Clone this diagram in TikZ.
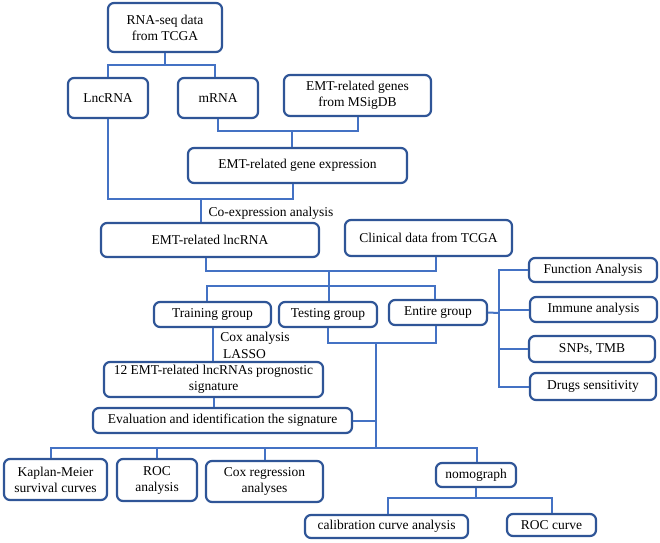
\documentclass[tikz,border=0pt]{standalone}
\usepackage{fontspec}
\setmainfont{Liberation Serif}
\definecolor{boxc}{HTML}{2F5597}
\definecolor{linec}{HTML}{4472C4}
\begin{document}
\begin{tikzpicture}[x=1pt,y=-1pt,
  box/.style={draw=boxc, line width=2.2pt, rounded corners=6pt, fill=white, align=center, inner sep=0pt, font=\fontsize{13.5}{16}\selectfont},
  conn/.style={draw=linec, line width=2pt},
  lbl/.style={font=\fontsize{13.5}{16}\selectfont, inner sep=0pt}]
\useasboundingbox (0,0) rectangle (660,542);
% nodes
\node[box, minimum width=114, minimum height=49] (rna) at (165,27.5) {RNA-seq data\\from TCGA};
\node[box, minimum width=80, minimum height=40] (lnc) at (108,98) {LncRNA};
\node[box, minimum width=80, minimum height=40] (mrna) at (218,98) {mRNA};
\node[box, minimum width=147, minimum height=41] (genes) at (357.5,95.5) {EMT-related genes\\from MSigDB};
\node[box, minimum width=219, minimum height=35] (expr) at (297.5,165.5) {EMT-related gene expression};
\node[box, minimum width=218, minimum height=34] (lncemt) at (210,240) {EMT-related lncRNA};
\node[box, minimum width=167, minimum height=36] (clin) at (428.5,238) {Clinical data from TCGA};
\node[box, minimum width=117, minimum height=25] (train) at (212.5,314.5) {Training group};
\node[box, minimum width=98, minimum height=25] (test) at (328,314.5) {Testing group};
\node[box, minimum width=98, minimum height=25] (entire) at (438,312.5) {Entire group};
\node[box, minimum width=219, minimum height=35] (sig) at (213.5,379.5) {12 EMT-related lncRNAs prognostic\\signature};
\node[box, minimum width=259, minimum height=25] (eval) at (222.5,420.5) {Evaluation and identification the signature};
\node[box, minimum width=128, minimum height=24] (func) at (593,270) {Function Analysis};
\node[box, minimum width=127, minimum height=25] (imm) at (593.5,309.5) {Immune analysis};
\node[box, minimum width=126, minimum height=26] (snp) at (592,349) {SNPs, TMB};
\node[box, minimum width=126, minimum height=27] (drug) at (593,386.5) {Drugs sensitivity};
\node[box, minimum width=103, minimum height=41] (km) at (55.5,479.5) {Kaplan-Meier\\survival curves};
\node[box, minimum width=80, minimum height=42] (roc) at (157,480) {ROC\\analysis};
\node[box, minimum width=117, minimum height=41] (cox) at (264.5,481.5) {Cox regression\\analyses};
\node[box, minimum width=80, minimum height=24] (nomo) at (476,475) {nomograph};
\node[box, minimum width=163, minimum height=23] (cal) at (386.5,526.5) {calibration curve analysis};
\node[box, minimum width=89, minimum height=22] (rocc) at (551.5,525) {ROC curve};
% labels
\node[lbl] (coexp) at (271,213) {Co-expression analysis};
\node[lbl] (coxa) at (255,338) {Cox analysis};
\node[lbl] (lasso) at (244.5,354) {LASSO};
% junctions
\coordinate (j1) at (165,65);
\coordinate (j2) at (292,131);
\coordinate (j3) at (201,199);
\coordinate (j4) at (329,271);
\coordinate (j5) at (329,286);
\coordinate (j6) at (376,343);
\coordinate (j7) at (376,448);
\coordinate (j8) at (477,498);
\coordinate (j9) at (499,313);
% connectors
\draw[conn] (rna.south) -- (j1);
\draw[conn] (lnc.north) |- (j1) -| ([xshift=-3pt]mrna.north);
\draw[conn] (mrna.south) |- (j2) -| (genes.south);
\draw[conn] (j2) -- (j2 |- expr.north);
\draw[conn] (lnc.south) |- (j3) -| ([xshift=-4.5pt]expr.south);
\draw[conn] (j3) -- (j3 |- lncemt.north);
\draw[conn] ([xshift=-4pt]lncemt.south) |- (j4) -| ([xshift=7.5pt]clin.south);
\draw[conn] (j4) -- (j5);
\draw[conn] ([xshift=-5.5pt]train.north) |- (j5) -| ([xshift=-3pt]entire.north);
\draw[conn] (j5) -- (j5 |- test.north);
\draw[conn] (train.south) -- (train.south |- sig.north);
\draw[conn] (test.south) |- (j6) -| ([xshift=-2pt]entire.south);
\draw[conn] (j6) -- (j7);
\draw[conn] (sig.south) -- (sig.south |- eval.north);
\draw[conn] (eval.east) -- (eval.east -| j6);
\draw[conn] ([xshift=-4.5pt]km.north) |- (j7) -| ([xshift=1pt]nomo.north);
\draw[conn] (roc.north) -- (roc.north |- j7);
\draw[conn] (cox.north) -- (cox.north |- j7);
\draw[conn] (nomo.south) -- (nomo.south |- j8);
\draw[conn] ([xshift=1.5pt]cal.north) |- (j8) -| (rocc.north);
\draw[conn] (entire.east) -- (j9);
\draw[conn] (func.west) -- (func.west -| j9) -- (drug.west -| j9) -- (drug.west);
\draw[conn] (imm.west) -- (imm.west -| j9);
\draw[conn] (snp.west) -- (snp.west -| j9);
\end{tikzpicture}
\end{document}
